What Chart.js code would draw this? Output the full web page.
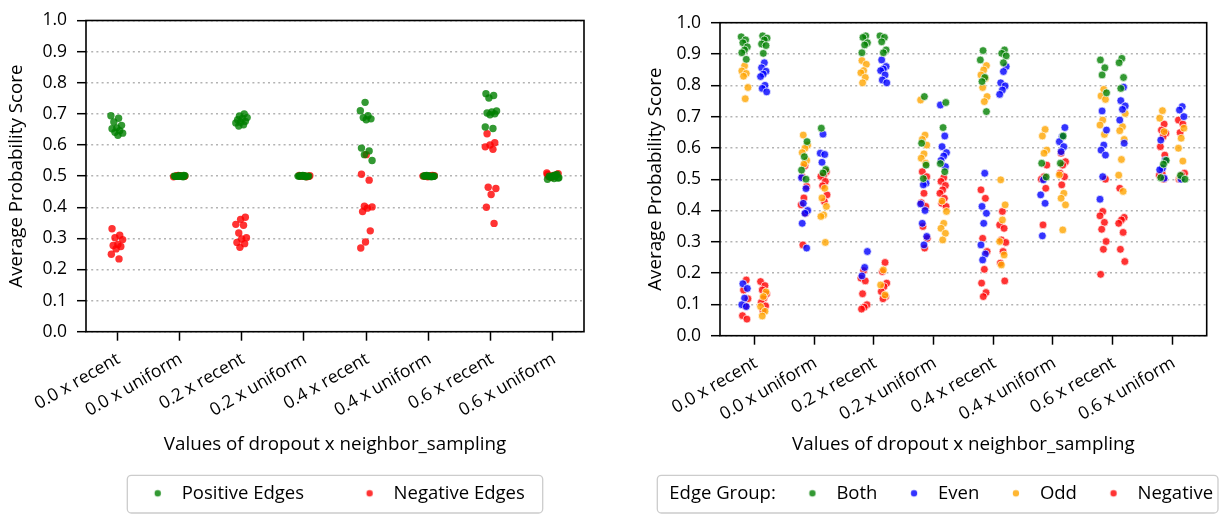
<!DOCTYPE html>
<html><head><meta charset="utf-8">
<script src="https://cdn.jsdelivr.net/npm/chart.js@4.4.0/dist/chart.umd.min.js"></script>
<style>
html,body{margin:0;padding:0;background:#fff;width:1222px;height:514px;overflow:hidden}
#w1{position:absolute;left:0;top:0;width:600px;height:514px}
#w2{position:absolute;left:600px;top:0;width:622px;height:514px}
</style></head><body>
<div id="w1"><canvas id="c1"></canvas></div>
<div id="w2"><canvas id="c2"></canvas></div>
<script>
// ---------- data ----------
const categories = ['0.0 x recent','0.0 x uniform','0.2 x recent','0.2 x uniform','0.4 x recent','0.4 x uniform','0.6 x recent','0.6 x uniform'];
const yTickValues = [0,0.1,0.2,0.3,0.4,0.5,0.6,0.7,0.8,0.9,1.0];

// left panel
const positiveEdges = [
 [0.694,0.686,0.674,0.663,0.655,0.652,0.646,0.641,0.638,0.631],
 [0.502,0.501,0.500,0.500,0.499,0.501,0.500,0.499,0.498,0.500],
 [0.700,0.693,0.688,0.685,0.681,0.676,0.673,0.671,0.665,0.661],
 [0.501,0.500,0.499,0.502,0.500,0.498,0.501,0.500,0.499,0.500],
 [0.737,0.710,0.694,0.688,0.684,0.681,0.590,0.581,0.569,0.550],
 [0.500,0.499,0.501,0.500,0.498,0.502,0.500,0.499,0.501,0.500],
 [0.765,0.759,0.751,0.709,0.706,0.703,0.700,0.697,0.658,0.653],
 [0.495,0.492,0.500,0.505,0.498,0.490,0.503,0.497,0.494,0.501]
];
const negativeEdges = [
 [0.331,0.310,0.302,0.296,0.280,0.277,0.274,0.266,0.249,0.234],
 [0.500,0.501,0.499,0.500,0.502,0.498,0.500,0.501,0.499,0.500],
 [0.368,0.361,0.345,0.342,0.317,0.302,0.298,0.287,0.283,0.271],
 [0.500,0.501,0.499,0.500,0.502,0.498,0.500,0.501,0.499,0.500],
 [0.569,0.506,0.487,0.403,0.401,0.397,0.386,0.324,0.288,0.269],
 [0.500,0.501,0.499,0.500,0.502,0.498,0.500,0.501,0.499,0.500],
 [0.636,0.607,0.600,0.594,0.586,0.464,0.460,0.441,0.400,0.348],
 [0.505,0.500,0.497,0.508,0.502,0.499,0.504,0.496,0.510,0.501]
];

// right panel (left / right strip of each category)
const bothLeft = [
 [0.955,0.945,0.936,0.923,0.913,0.904,0.883],
 [0.620,0.572,0.529,0.500],
 [0.958,0.953,0.936,0.929,0.904],
 [0.764,0.615,0.545,0.502],
 [0.911,0.881,0.825,0.812,0.716],
 [0.551,0.507],
 [0.881,0.856,0.833,0.776],
 [0.560,0.548,0.505]
];
const bothRight = [
 [0.958,0.951,0.945,0.932,0.927,0.902],
 [0.663,0.531,0.520],
 [0.958,0.953,0.939,0.913,0.904],
 [0.745,0.665,0.550,0.524],
 [0.913,0.902,0.894,0.872],
 [0.638,0.551],
 [0.886,0.872,0.825,0.790],
 [0.512,0.500]
];
const evenLeft = [
 [0.166,0.151,0.120,0.099,0.093],
 [0.505,0.470,0.423,0.400,0.391,0.359,0.280],
 [0.269,0.218,0.191],
 [0.487,0.482,0.421,0.400,0.359,0.317,0.290],
 [0.519,0.413,0.391,0.359,0.290,0.261,0.242],
 [0.498,0.450,0.423,0.319],
 [0.718,0.657,0.609,0.593,0.577,0.508,0.436],
 [0.625,0.561,0.535,0.530,0.503]
];
const evenRight = [
 [0.872,0.856,0.845,0.836,0.828,0.800,0.790,0.779],
 [0.644,0.583,0.579,0.554],
 [0.881,0.860,0.852,0.847,0.833,0.817,0.808],
 [0.737,0.638,0.604,0.585,0.574,0.560,0.540],
 [0.860,0.844,0.808,0.798,0.785,0.771],
 [0.665,0.636,0.620,0.604,0.588],
 [0.794,0.751,0.734,0.723,0.689,0.615],
 [0.732,0.721,0.700,0.500]
];
const oddLeft = [
 [0.862,0.846,0.838,0.829,0.793,0.757],
 [0.641,0.609,0.599,0.585,0.560,0.548],
 [0.879,0.867,0.847,0.840,0.825,0.808],
 [0.753,0.641,0.627,0.609,0.581,0.567,0.551],
 [0.863,0.849,0.833,0.822,0.793,0.764,0.748],
 [0.659,0.638,0.593,0.583],
 [0.787,0.766,0.755,0.689,0.673,0.643],
 [0.719,0.695,0.652]
];
const oddRight = [
 [0.140,0.125,0.093,0.078,0.063],
 [0.471,0.440,0.413,0.386,0.381,0.298],
 [0.210,0.162,0.130],
 [0.430,0.397,0.359,0.343,0.327,0.306],
 [0.498,0.418,0.370,0.301,0.258,0.226],
 [0.514,0.455,0.439,0.418,0.338],
 [0.710,0.668,0.655,0.627,0.563,0.513,0.461],
 [0.663,0.631,0.599,0.558,0.503]
];
const negLeft = [
 [0.178,0.146,0.118,0.095,0.064,0.053],
 [0.543,0.508,0.477,0.440,0.418,0.391,0.290],
 [0.208,0.184,0.175,0.134,0.099,0.091,0.085],
 [0.524,0.508,0.455,0.425,0.413,0.349,0.311,0.280],
 [0.466,0.439,0.311,0.269,0.212,0.168,0.138,0.125],
 [0.545,0.508,0.500,0.471,0.354],
 [0.500,0.397,0.383,0.362,0.340,0.301,0.276,0.196],
 [0.676,0.657,0.647,0.636,0.604,0.577,0.519,0.513,0.500]
];
const negRight = [
 [0.173,0.160,0.146,0.134,0.120,0.106,0.095,0.080],
 [0.524,0.513,0.509,0.493,0.479,0.450,0.429],
 [0.234,0.205,0.168,0.157,0.141,0.125,0.118],
 [0.505,0.493,0.480,0.466,0.455,0.439,0.423,0.413],
 [0.397,0.354,0.343,0.306,0.298,0.269,0.232,0.175],
 [0.583,0.556,0.545,0.519,0.508,0.482],
 [0.471,0.378,0.370,0.359,0.330,0.276,0.237],
 [0.689,0.676,0.649,0.519,0.513,0.500]
];

// ---------- style ----------
const FONT = 'Open Sans';
const FS = 18.5;        // legend
const FS_TITLE = 18.8;  // axis titles
const FS_TICK = 17.5;   // tick labels
const GREEN = 'rgba(0,128,0,0.8)', RED = 'rgba(255,0,0,0.8)', BLUE = 'rgba(0,0,255,0.8)', ORANGE = 'rgba(255,165,0,0.8)';
const D = 32.6;                       // legend: item start -> marker centre
const BOXW = D + 24 - FS / 2;         // legend box width
const DOT_OFF = D - BOXW / 2;

Chart.defaults.font.family = FONT;
Chart.defaults.font.size = FS;
Chart.defaults.color = '#000';

const jit = i => ((i * 0.6180339887) % 1) * 2 - 1;   // deterministic strip jitter

function strip(groups, offset, width, seed) {
  const pts = [];
  groups.forEach((vals, c) => vals.forEach((v, i) => pts.push({x: c + offset + width * jit(i + seed + c * 3), y: v})));
  return pts;
}

function dot(color) {
  const half = Math.abs(DOT_OFF) + 6;
  const c = document.createElement('canvas');
  c.width = Math.round(half * 2); c.height = 12;
  if (color) {
    const g = c.getContext('2d');
    g.fillStyle = color;
    g.beginPath(); g.arc(c.width / 2 + DOT_OFF, 6, 3.2, 0, Math.PI * 2); g.fill();
  }
  return c;
}

const framePlugin = {
  id: 'frames',
  afterLayout(chart, args, opts) {
    const L = chart.legend;
    const p = chart.options.plugins.legend.labels.padding;
    L.left = opts.itemX - p;
    L.right = L.left + 5000;
    L.top = opts.textY - FS / 2 - p;
    L.bottom = chart.height;
  },
  beforeDraw(chart, args, opts) {
    const ctx = chart.ctx, [x, y, w, h] = opts.frame;
    ctx.save();
    ctx.beginPath();
    ctx.roundRect(x, y, w, h, 4);
    ctx.fillStyle = '#fff'; ctx.fill();
    ctx.lineWidth = 1.3; ctx.strokeStyle = '#cccccc'; ctx.stroke();
    ctx.restore();
  },
  afterDraw(chart) {
    const a = chart.chartArea, ctx = chart.ctx;
    ctx.save();
    ctx.lineWidth = 1.6; ctx.strokeStyle = '#000';
    ctx.strokeRect(a.left, a.top, a.right - a.left, a.bottom - a.top);
    ctx.restore();
  }
};

function makeOptions(cfg) {
  return {
    responsive: true, maintainAspectRatio: false, animation: false, events: [],
    devicePixelRatio: 1,
    layout: {padding: {top: cfg.padTop, right: cfg.padRight, left: 0, bottom: 0}},
    scales: {
      x: {
        type: 'linear', min: cfg.xMin, max: cfg.xMax,
        afterBuildTicks: s => { s.ticks = categories.map((c, i) => ({value: i})); },
        afterFit: s => { s.height = cfg.xHeight; },
        ticks: {autoSkip: false, minRotation: 30, maxRotation: 30, padding: 8, labelOffset: 1.5, color: '#000',
                font: {size: FS_TICK}, callback: v => categories[v]},
        grid: {display: true, drawOnChartArea: false, drawTicks: true, tickLength: 9, tickColor: '#000', tickWidth: 1.5},
        border: {display: false},
        title: {display: true, text: 'Values of dropout x neighbor_sampling', color: '#000', font: {size: FS_TITLE},
                padding: {top: 0, bottom: 39 - FS_TITLE * 0.6}}
      },
      y: {
        min: 0, max: 1,
        afterBuildTicks: s => { s.ticks = yTickValues.map(v => ({value: v})); },
        afterFit: s => { s.width = cfg.yWidth; },
        ticks: {padding: 10, color: '#000', font: {size: FS_TICK}, callback: v => Number(v).toFixed(1)},
        grid: {color: '#b3b3b3', lineWidth: 1.4, tickColor: '#000', tickLength: 9, tickWidth: 1.5},
        border: {display: false, dash: [2, 3.2]},
        title: {display: true, text: 'Average Probability Score', color: '#000', font: {size: FS_TITLE},
                padding: {top: cfg.yTitleCenter - FS_TITLE * 0.6, bottom: 0}}
      }
    },
    plugins: {
      tooltip: {enabled: false},
      frames: {itemX: cfg.itemX, textY: 493.3, frame: cfg.frame},
      legend: {
        position: 'bottom', align: 'start', maxHeight: 30,
        labels: {usePointStyle: true, pointStyleWidth: BOXW, boxHeight: 7, padding: cfg.legendPad, color: '#000',
                 generateLabels: chart => {
                   const items = chart.data.datasets.map((ds, i) => ({
                     text: ds.label, pointStyle: dot(ds.legendColor), fillStyle: ds.legendColor,
                     strokeStyle: ds.legendColor, lineWidth: 0, hidden: false, datasetIndex: i}));
                   if (cfg.legendTitle) items.unshift({text: cfg.legendTitle, pointStyle: dot(null),
                     fillStyle: 'transparent', strokeStyle: 'transparent', lineWidth: 0, hidden: false});
                   return items;
                 }}
      }
    }
  };
}

// ---------- left chart ----------
const ptLeft = {pointRadius: 3.7, pointHoverRadius: 3.7, pointBorderWidth: 0};
new Chart(document.getElementById('c1'), {
  type: 'scatter',
  data: {datasets: [
    Object.assign({label: 'Positive Edges', data: strip(positiveEdges, 0, 0.1, 0), backgroundColor: GREEN, legendColor: GREEN}, ptLeft),
    Object.assign({label: 'Negative Edges', data: strip(negativeEdges, 0, 0.1, 5), backgroundColor: RED, legendColor: RED}, ptLeft)
  ]},
  options: makeOptions({padTop: 14, padRight: 16, xMin: -0.5, xMax: 7.5, xHeight: 514 - 30 - 331.7,
    yWidth: 86, yTitleCenter: 16.7, itemX: 157.7 - D, frame: [127.3, 475.3, 415.4, 37.7], legendPad: 65.6 - D, legendTitle: null}),
  plugins: [framePlugin]
});

// ---------- right chart ----------
const ptRight = {pointRadius: 3.9, pointHoverRadius: 3.9, borderColor: 'rgba(255,255,255,0.85)', pointBorderWidth: 0.8};
const OFF = 0.16, JW = 0.06;
function group(label, color, leftArr, rightArr, seed) {
  return Object.assign({label, legendColor: color, backgroundColor: color,
    data: strip(leftArr, -OFF, JW, seed).concat(strip(rightArr, OFF, JW, seed + 7))}, ptRight);
}
new Chart(document.getElementById('c2'), {
  type: 'scatter',
  data: {datasets: [
    group('Both', GREEN, bothLeft, bothRight, 0),
    group('Even', BLUE, evenLeft, evenRight, 2),
    group('Odd', ORANGE, oddLeft, oddRight, 4),
    group('Negative', RED, negLeft, negRight, 6)
  ]},
  options: makeOptions({padTop: 22.7, padRight: 15.3, xMin: -0.575, xMax: 7.575, xHeight: 514 - 30 - 335.7,
    yWidth: 120, yTitleCenter: 55.5, itemX: 69.3 - BOXW - FS / 2, frame: [57.3, 475.3, 560.7, 37.7], legendPad: 4, legendTitle: 'Edge Group:'}),
  plugins: [framePlugin]
});
</script>
</body></html>
